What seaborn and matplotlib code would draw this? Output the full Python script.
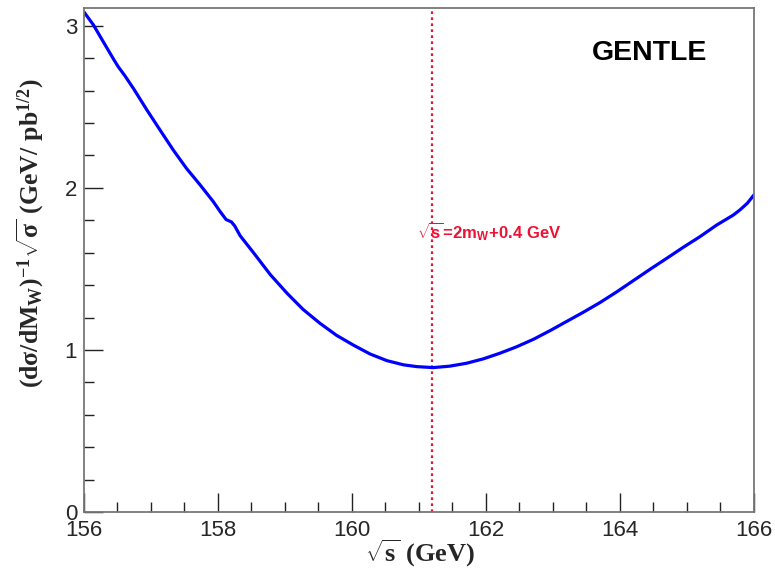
import matplotlib
matplotlib.use("Agg")
import matplotlib.pyplot as plt
from matplotlib.ticker import MultipleLocator
import seaborn as sns
import pandas as pd

# Statistical sensitivity to M_W as a function of the collision energy
sqrt_s = [156.00, 156.14, 156.29, 156.44, 156.51, 156.61, 156.74, 156.94, 157.13,
          157.33, 157.53, 157.73, 157.93, 158.03, 158.12, 158.20, 158.25, 158.33,
          158.53, 158.78, 159.03, 159.27, 159.52, 159.77, 160.02, 160.27, 160.52,
          160.77, 160.97, 161.21, 161.46, 161.71, 161.96, 162.21, 162.46, 162.71,
          162.96, 163.20, 163.45, 163.70, 163.95, 164.20, 164.45, 164.70, 164.95,
          165.19, 165.44, 165.69, 165.79, 165.90, 166.00]
sensitivity = [3.085, 3.006, 2.900, 2.795, 2.748, 2.692, 2.612, 2.480, 2.360,
               2.235, 2.120, 2.020, 1.915, 1.855, 1.805, 1.790, 1.765, 1.705,
               1.600, 1.465, 1.350, 1.250, 1.165, 1.090, 1.030, 0.975, 0.934,
               0.908, 0.897, 0.891, 0.900, 0.918, 0.945, 0.980, 1.020, 1.066,
               1.120, 1.175, 1.232, 1.292, 1.358, 1.428, 1.498, 1.566, 1.635,
               1.698, 1.770, 1.832, 1.864, 1.905, 1.957]
optimum_energy = 161.2
optimum_label = r"$\mathsf{\sqrt{s}\!=\!2m_W\!+\!0.4\ GeV}$"
generator_name = "GENTLE"
x_title = r"$\mathbf{\sqrt{s}\ (GeV)}$"
y_title = r"$\mathbf{(d\sigma/dM_W)^{-1}\sqrt{\sigma}\ (GeV/\ pb^{1/2})}$"

sns.set_style("white")
plt.rcParams["font.family"] = ["Liberation Sans", "DejaVu Sans"]
plt.rcParams["mathtext.fontset"] = "custom"
plt.rcParams["mathtext.rm"] = "Liberation Serif:bold"
plt.rcParams["mathtext.it"] = "Liberation Serif:bold"
plt.rcParams["mathtext.bf"] = "Liberation Serif:bold"
plt.rcParams["mathtext.sf"] = "Liberation Sans:bold"

df = pd.DataFrame({"sqrt_s": sqrt_s, "sensitivity": sensitivity})

fig = plt.figure(figsize=(7.75, 5.71), dpi=100)
ax = fig.add_axes([84 / 775, 1 - 512 / 571, 670 / 775, 504 / 571])

sns.lineplot(data=df, x="sqrt_s", y="sensitivity", ax=ax, color="#0000ff",
             linewidth=2.3, sort=False)
ax.axvline(optimum_energy, color="#ee1133", linestyle=(0, (1.2, 1.5)),
           linewidth=1.6, zorder=1)

ax.set_xlim(156, 166)
ax.set_ylim(0, 3.11)
ax.xaxis.set_major_locator(MultipleLocator(2))
ax.xaxis.set_minor_locator(MultipleLocator(0.5))
ax.yaxis.set_major_locator(MultipleLocator(1))
ax.yaxis.set_minor_locator(MultipleLocator(0.2))
ax.tick_params(which="major", direction="in", length=14, width=1.0,
               color="#222222", labelsize=16)
ax.tick_params(axis="x", which="major", pad=6)
ax.tick_params(axis="y", which="major", pad=5)
ax.tick_params(which="minor", direction="in", length=7.5, width=1.0,
               color="#222222")
ax.tick_params(axis="both", which="both", bottom=True, left=True,
               top=False, right=False)
for spine in ax.spines.values():
    spine.set_color("#777777")
    spine.set_linewidth(1.3)
ax.set_xlabel("")
ax.set_ylabel("")

ax.text(160.97, 1.73, optimum_label, color="#ee1133", fontsize=12,
        ha="left", va="center")
fig.text(650 / 775, 1 - 53 / 571, generator_name, fontsize=20.5,
         fontweight="bold", ha="center", va="center", color="black")
fig.text(420 / 775, 1 - 553 / 571, x_title, fontsize=19, ha="center",
         va="center")
fig.text(30 / 775, 1 - 233 / 571, y_title, fontsize=18.5, ha="center",
         va="center", rotation=90)

fig.savefig("out.png", dpi=100)
